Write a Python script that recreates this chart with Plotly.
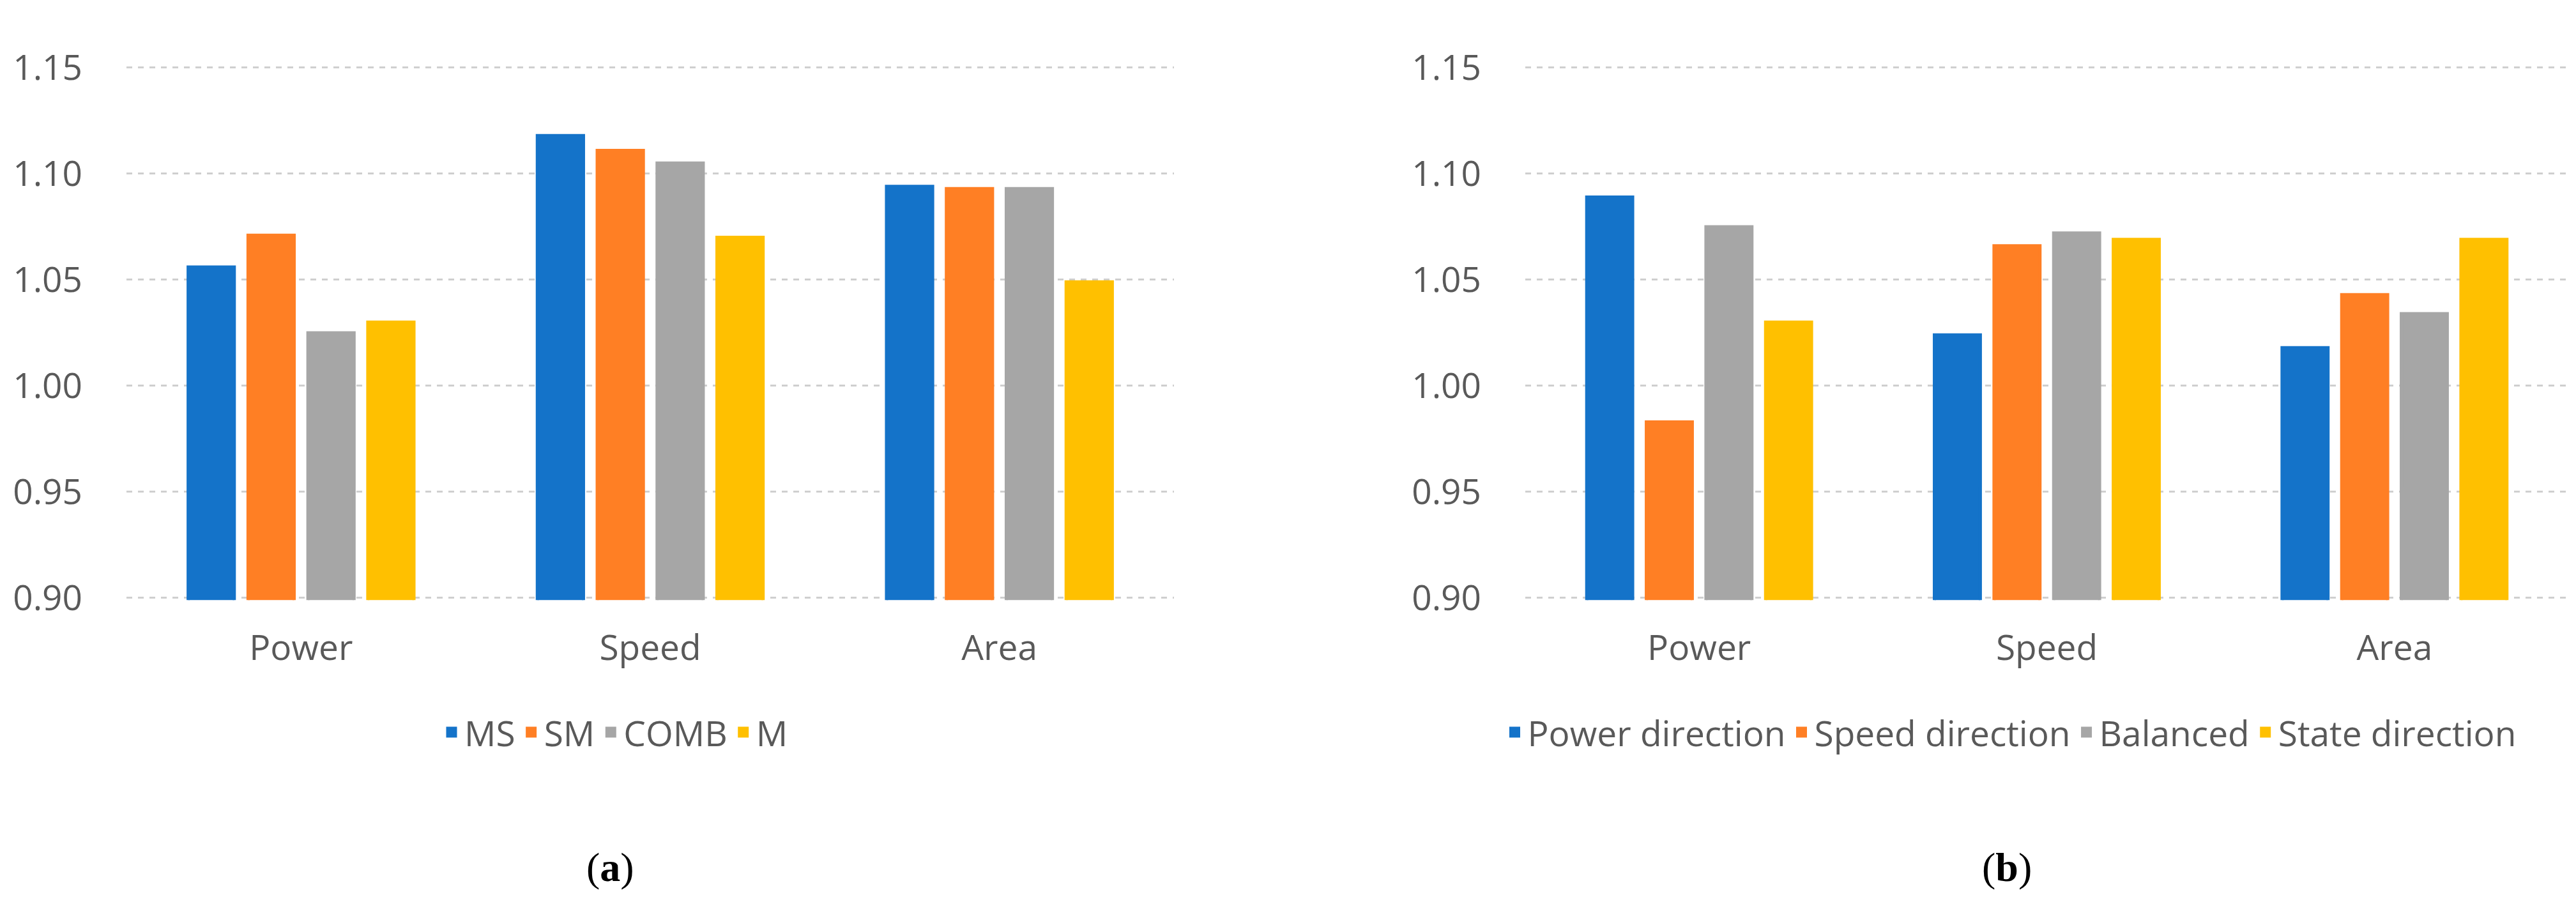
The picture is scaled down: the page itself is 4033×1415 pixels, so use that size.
import plotly.graph_objects as go

categories = ["Power", "Speed", "Area"]

# Panel (a)
series_a_names = ["MS", "SM", "COMB", "M"]
ms_vals = [1.056, 1.118, 1.094]
sm_vals = [1.071, 1.111, 1.093]
comb_vals = [1.025, 1.105, 1.093]
m_vals = [1.030, 1.070, 1.049]

# Panel (b)
series_b_names = ["Power direction", "Speed direction", "Balanced", "State direction"]
power_dir_vals = [1.089, 1.024, 1.018]
speed_dir_vals = [0.983, 1.066, 1.043]
balanced_vals = [1.075, 1.072, 1.034]
state_dir_vals = [1.030, 1.069, 1.069]

y_ticks = [0.90, 0.95, 1.00, 1.05, 1.10, 1.15]
y_tick_labels = ["0.90", "0.95", "1.00", "1.05", "1.10", "1.15"]

colors = ["#1473C9", "#FF7F24", "#A6A6A6", "#FFC000"]
text_color = "#595959"
font_family = "Open Sans"
font_size = 55

fig = go.Figure()

for name, vals, col in zip(series_a_names, [ms_vals, sm_vals, comb_vals, m_vals], colors):
    fig.add_trace(go.Bar(x=categories, y=vals, name=name, marker=dict(color=col, line=dict(width=5, color=col)),
                         xaxis="x", yaxis="y", legend="legend"))

for name, vals, col in zip(series_b_names, [power_dir_vals, speed_dir_vals, balanced_vals, state_dir_vals], colors):
    fig.add_trace(go.Bar(x=categories, y=vals, name=name, marker=dict(color=col, line=dict(width=5, color=col)),
                         xaxis="x2", yaxis="y2", legend="legend2"))

W, H = 4033, 1415
px_per_unit = (937 - 65) / 0.25
pad = 0.001
y_dom = [1 - (937 + pad * px_per_unit) / H, 1 - (65 - pad * px_per_unit) / H]

yaxis_common = dict(
    range=[0.90 - pad, 1.15 + pad], tickvals=y_ticks, ticktext=y_tick_labels,
    showgrid=True, gridcolor="#CFCFCF", gridwidth=3, griddash="dash",
    zeroline=False, showline=False, ticks="",
    tickfont=dict(family=font_family, size=font_size, color=text_color),
    ticklabelstandoff=68, domain=y_dom, fixedrange=True,
)
xaxis_common = dict(
    showgrid=False, zeroline=False, showline=False, ticks="",
    tickfont=dict(family=font_family, size=font_size, color=text_color),
    ticklabelstandoff=38, fixedrange=True,
)

legend_common = dict(
    orientation="h", xanchor="center", yanchor="middle", y=1 - 1158 / H,
    font=dict(family=font_family, size=font_size, color=text_color),
    bgcolor="rgba(0,0,0,0)", itemclick=False, itemdoubleclick=False,
)

fig.update_layout(
    width=W, height=H, autosize=False,
    margin=dict(l=0, r=0, t=0, b=0),
    paper_bgcolor="white", plot_bgcolor="white",
    barmode="group", bargap=0.314, bargroupgap=0.23,
    xaxis=dict(domain=[190 / W, 1830 / W], anchor="y", **xaxis_common),
    yaxis=dict(anchor="x", **yaxis_common),
    xaxis2=dict(domain=[2380 / W, 4013 / W], anchor="y2", **xaxis_common),
    yaxis2=dict(anchor="x2", **yaxis_common),
    legend=dict(x=955 / W, **legend_common),
    legend2=dict(x=3140 / W, **legend_common),
    annotations=[
        dict(text="(<b>a</b>)", x=947 / W, y=1 - 1380 / H, xref="paper", yref="paper",
             showarrow=False, xanchor="center", yanchor="middle",
             font=dict(family="Liberation Serif", size=64, color="black")),
        dict(text="(<b>b</b>)", x=3134 / W, y=1 - 1380 / H, xref="paper", yref="paper",
             showarrow=False, xanchor="center", yanchor="middle",
             font=dict(family="Liberation Serif", size=64, color="black")),
    ],
)

fig.write_html("out.html")
